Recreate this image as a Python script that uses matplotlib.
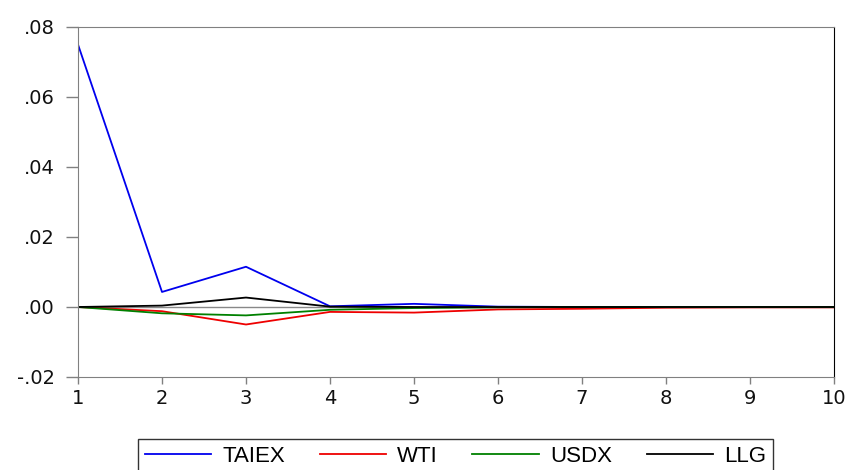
import numpy as np
import matplotlib.pyplot as plt
from matplotlib.ticker import FuncFormatter

# Impulse responses over 10 periods
periods = np.arange(1, 11)
taiex = [0.0750, 0.0043, 0.0115, 0.0002, 0.0009, 0.0001, 0.0000, 0.0000, 0.0000, 0.0000]
wti = [0.0000, -0.0012, -0.0050, -0.0014, -0.0016, -0.0007, -0.0005, -0.0002, -0.0001, -0.0001]
usdx = [0.0000, -0.0018, -0.0024, -0.0008, -0.0003, -0.0001, 0.0000, 0.0000, 0.0000, 0.0000]
llg = [0.0000, 0.0004, 0.0027, 0.0001, 0.0000, 0.0000, 0.0000, 0.0000, 0.0000, 0.0000]

plt.rcParams['font.family'] = ['Liberation Sans', 'DejaVu Sans']

fig = plt.figure(figsize=(8.47, 4.70), dpi=100)
ax = fig.add_axes([78 / 847, 1 - 377 / 470, (834 - 78) / 847, (377 - 27) / 470])

# zero reference line
ax.axhline(0, color='#888888', linewidth=1.0, zorder=1)

ax.plot(periods, taiex, color='#0000ee', linewidth=1.3, label='TAIEX')
ax.plot(periods, wti, color='#ee0000', linewidth=1.3, label='WTI')
ax.plot(periods, usdx, color='#008000', linewidth=1.3, label='USDX')
ax.plot(periods, llg, color='black', linewidth=1.3, label='LLG')

ax.set_xlim(1, 10)
ax.set_ylim(-0.02, 0.08)
ax.set_xticks(periods)
ax.set_yticks([-0.02, 0.0, 0.02, 0.04, 0.06, 0.08])

def fmt(v, pos):
    s = '%.2f' % v
    return s.replace('0.', '.', 1)

ax.yaxis.set_major_formatter(FuncFormatter(fmt))

for side in ['left', 'top', 'bottom']:
    ax.spines[side].set_color('#808080')
ax.spines['right'].set_color('black')

ax.tick_params(axis='y', direction='out', length=8.5, width=1, color='#808080',
               pad=8, labelcolor='#111111')
ax.tick_params(axis='x', direction='out', length=5, width=1, color='#808080',
               pad=4, labelcolor='#111111')
for lbl in ax.get_xticklabels() + ax.get_yticklabels():
    lbl.set_family('DejaVu Sans')
    lbl.set_fontsize(14)

# legend below the plot
leg = fig.legend(loc='upper center', bbox_to_anchor=(455.5 / 847, 1 - 439 / 470),
                 ncol=4, fontsize=16, frameon=True, fancybox=False,
                 handlelength=3.0, handletextpad=0.5, columnspacing=1.55,
                 borderpad=0.3, borderaxespad=0)
leg.get_frame().set_edgecolor('black')
leg.get_frame().set_linewidth(1.0)

fig.savefig('out.png', dpi=100)
